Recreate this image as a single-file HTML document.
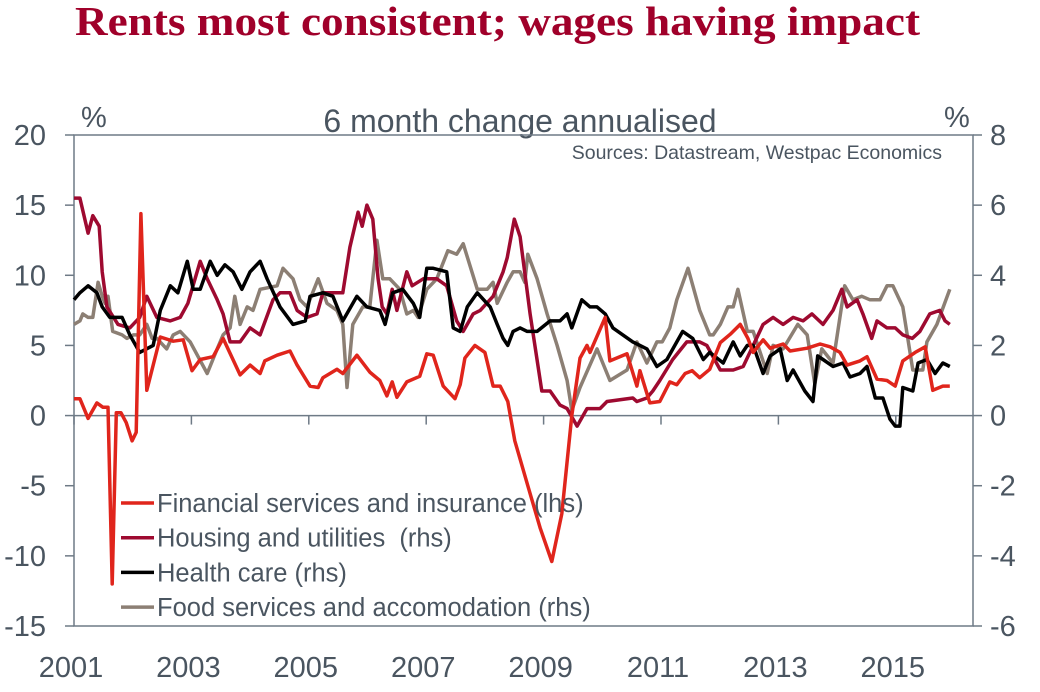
<!DOCTYPE html>
<html><head><meta charset="utf-8"><style>
html,body{margin:0;padding:0;background:#fff;}
svg{display:block;font-family:"Liberation Sans",sans-serif;}
</style></head><body>
<svg id="chart" width="1040" height="692" viewBox="0 0 1040 692" xmlns="http://www.w3.org/2000/svg">
<text x="75" y="35" font-family="Liberation Serif, serif" font-weight="bold" font-size="41" fill="#a0002a" textLength="845" lengthAdjust="spacingAndGlyphs">Rents most consistent; wages having impact</text>
<text x="520" y="132" font-size="32" fill="#4a5560" text-anchor="middle">6 month change annualised</text>
<text x="81" y="127" font-size="29" fill="#4a5560">%</text>
<text x="944" y="127" font-size="29" fill="#4a5560">%</text>
<text x="942" y="159" font-size="19.5" fill="#4a5560" text-anchor="end">Sources: Datastream, Westpac Economics</text>
<g id="axes"></g>
<g id="series"></g>
<g id="legend"></g>
</svg>
<script>
const xTickYears=[2001,2003,2005,2007,2009,2011,2013,2015];
const leftTicks=[20,15,10,5,0,-5,-10,-15];
const rightTicks=[8,6,4,2,0,-2,-4,-6];
const finDates=[2001.00,2001.10,2001.24,2001.39,2001.49,2001.58,2001.65,2001.72,2001.80,2001.89,2001.99,2002.06,2002.14,2002.24,2002.47,2002.69,2002.86,2003.01,2003.15,2003.37,2003.54,2003.83,2004.00,2004.17,2004.25,2004.46,2004.68,2004.80,2005.02,2005.16,2005.24,2005.48,2005.58,2005.82,2006.04,2006.21,2006.33,2006.42,2006.50,2006.67,2006.89,2007.01,2007.12,2007.29,2007.49,2007.58,2007.66,2007.83,2008.00,2008.14,2008.26,2008.39,2008.51,2008.73,2008.94,2009.14,2009.31,2009.48,2009.62,2009.74,2009.79,2010.05,2010.13,2010.42,2010.59,2010.64,2010.81,2010.98,2011.15,2011.27,2011.41,2011.53,2011.66,2011.83,2012.01,2012.18,2012.35,2012.48,2012.57,2012.74,2012.86,2013.08,2013.20,2013.49,2013.71,2013.88,2014.05,2014.17,2014.39,2014.51,2014.68,2014.85,2014.99,2015.12,2015.33,2015.50,2015.63,2015.80,2015.92];
const finValues=[1.2,1.2,-0.2,0.9,0.6,0.6,-12,0.2,0.2,-0.5,-1.8,-1.2,14.4,1.8,5.6,5.3,5.4,3.2,4.0,4.2,5.5,2.9,3.6,3.0,3.9,4.3,4.6,3.6,2.1,2.0,2.7,3.3,3.0,4.3,3.1,2.5,1.4,2.4,1.3,2.4,2.8,4.4,4.3,2.1,1.2,2.2,4.1,5.0,4.5,2.1,2.1,1.0,-1.8,-5,-8,-10.4,-7,0,4.1,5.0,4.5,7.0,3.9,4.4,2.1,3.2,0.9,1.0,2.4,2.2,3.0,3.2,2.7,3.3,5.2,5.8,6.5,5.5,4.5,5.4,4.8,5.1,4.6,4.8,5.1,4.9,4.5,3.6,3.9,4.2,2.6,2.5,2.1,3.9,4.5,4.9,1.8,2.1,2.1];
const houseDates=[2001.00,2001.10,2001.24,2001.32,2001.43,2001.48,2001.56,2001.75,2001.95,2002.12,2002.24,2002.41,2002.64,2002.81,2002.94,2003.15,2003.27,2003.44,2003.54,2003.66,2003.83,2004.00,2004.17,2004.39,2004.51,2004.68,2004.80,2004.97,2005.14,2005.24,2005.58,2005.70,2005.84,2005.91,2005.99,2006.09,2006.18,2006.25,2006.33,2006.42,2006.50,2006.67,2006.76,2006.95,2007.18,2007.35,2007.52,2007.63,2007.80,2007.92,2008.14,2008.31,2008.38,2008.50,2008.60,2008.77,2008.97,2009.11,2009.28,2009.40,2009.57,2009.74,2009.96,2010.08,2010.52,2010.59,2010.76,2010.86,2010.98,2011.20,2011.44,2011.66,2011.78,2012.01,2012.23,2012.40,2012.57,2012.74,2012.91,2013.08,2013.25,2013.42,2013.57,2013.76,2013.93,2014.08,2014.17,2014.34,2014.44,2014.59,2014.68,2014.85,2014.99,2015.12,2015.28,2015.41,2015.58,2015.75,2015.84,2015.92];
const houseValues=[6.2,6.2,5.2,5.7,5.4,4.1,3.1,2.6,2.5,2.8,3.4,2.8,2.7,2.8,3.2,4.4,3.9,3.3,2.9,2.1,2.1,2.5,2.3,3.3,3.5,3.5,3.0,2.8,2.9,3.5,3.5,4.8,5.8,5.4,6.0,5.6,3.9,3.1,2.9,3.6,3.0,4.1,3.7,3.9,3.9,3.7,2.7,2.4,2.9,3.0,3.4,4.1,4.5,5.6,5.1,2.9,0.7,0.7,0.3,0.2,-0.3,0.2,0.2,0.4,0.5,0.4,0.5,0.7,1.0,1.6,2.1,2.1,2.0,1.3,1.3,1.4,2.0,2.6,2.8,2.6,2.8,2.7,2.9,2.6,3.0,3.6,3.1,3.3,2.9,2.2,2.7,2.5,2.5,2.3,2.2,2.4,2.9,3.0,2.7,2.6];
const healthDates=[2001.00,2001.10,2001.24,2001.39,2001.48,2001.61,2001.82,2001.95,2002.12,2002.35,2002.47,2002.64,2002.77,2002.93,2003.03,2003.15,2003.32,2003.44,2003.57,2003.71,2003.86,2004.00,2004.17,2004.29,2004.51,2004.73,2004.94,2005.02,2005.24,2005.41,2005.58,2005.82,2005.99,2006.21,2006.30,2006.43,2006.60,2006.78,2006.89,2007.01,2007.12,2007.35,2007.46,2007.58,2007.70,2007.87,2008.09,2008.21,2008.31,2008.39,2008.48,2008.60,2008.72,2008.89,2009.11,2009.28,2009.40,2009.48,2009.65,2009.79,2009.91,2010.05,2010.18,2010.52,2010.76,2010.93,2011.10,2011.37,2011.54,2011.72,2011.83,2012.06,2012.23,2012.35,2012.47,2012.57,2012.74,2012.86,2013.03,2013.15,2013.25,2013.45,2013.59,2013.67,2013.76,2013.93,2014.10,2014.22,2014.39,2014.51,2014.65,2014.78,2014.90,2014.99,2015.07,2015.12,2015.29,2015.38,2015.53,2015.67,2015.80,2015.92];
const healthValues=[3.3,3.5,3.7,3.5,3.1,2.8,2.8,2.3,1.8,2.0,3.0,3.7,3.5,4.4,3.6,3.6,4.4,4.0,4.3,4.1,3.6,4.1,4.4,3.9,3.1,2.6,2.7,3.4,3.5,3.4,2.7,3.4,3.1,3.0,2.6,3.5,3.6,3.2,2.8,4.2,4.2,4.1,2.5,2.4,3.1,3.5,3.1,2.6,2.2,2.0,2.4,2.5,2.4,2.4,2.7,2.7,2.9,2.5,3.3,3.1,3.1,2.9,2.5,2.1,1.9,1.4,1.6,2.4,2.2,1.6,1.8,1.5,2.1,1.7,2.0,2.0,1.2,1.7,1.9,1.0,1.3,0.7,0.4,1.7,1.6,1.4,1.5,1.1,1.2,1.4,0.5,0.5,-0.1,-0.3,-0.3,0.8,0.7,1.5,1.6,1.2,1.5,1.4];
const foodDates=[2001.00,2001.10,2001.15,2001.24,2001.32,2001.41,2001.48,2001.53,2001.58,2001.66,2001.82,2001.90,2002.01,2002.12,2002.24,2002.33,2002.41,2002.58,2002.69,2002.81,2002.98,2003.27,2003.44,2003.54,2003.66,2003.74,2003.83,2003.95,2004.05,2004.17,2004.46,2004.56,2004.73,2004.85,2004.97,2005.16,2005.31,2005.48,2005.58,2005.65,2005.75,2005.92,2006.04,2006.16,2006.26,2006.38,2006.55,2006.67,2006.78,2006.86,2007.01,2007.18,2007.37,2007.52,2007.63,2007.87,2008.04,2008.14,2008.21,2008.38,2008.48,2008.60,2008.68,2008.73,2008.89,2009.06,2009.23,2009.40,2009.48,2009.62,2009.91,2010.13,2010.42,2010.59,2010.76,2010.93,2011.02,2011.15,2011.27,2011.46,2011.66,2011.83,2011.89,2012.01,2012.14,2012.23,2012.31,2012.47,2012.57,2012.81,2012.91,2013.08,2013.33,2013.49,2013.62,2013.74,2013.93,2014.13,2014.27,2014.42,2014.56,2014.73,2014.85,2014.95,2015.12,2015.29,2015.46,2015.53,2015.70,2015.92];
const foodValues=[2.6,2.7,2.9,2.8,2.8,3.8,3.4,3.2,3.4,2.4,2.3,2.2,2.3,2.3,2.6,2.2,2.2,1.9,2.3,2.4,2.1,1.2,1.9,2.3,2.5,3.4,2.6,3.1,3.0,3.6,3.7,4.2,3.9,3.3,3.1,3.9,3.2,3.0,2.6,0.8,2.6,3.1,3.1,5.0,3.9,3.9,3.6,2.9,3.0,2.8,3.6,3.9,4.7,4.6,4.9,3.6,3.6,3.8,3.2,3.8,4.1,4.1,3.8,4.6,3.9,2.9,2.0,1.0,0.15,0.8,1.9,1.0,1.3,2.1,1.5,2.1,2.1,2.5,3.3,4.2,3.0,2.3,2.3,2.6,3.1,3.1,3.6,2.4,2.4,1.2,2.0,1.9,2.6,2.3,0.9,1.9,1.5,3.7,3.3,3.4,3.3,3.3,3.7,3.7,3.1,1.3,1.3,2.1,2.6,3.6];

const NS='http://www.w3.org/2000/svg';
const L=74,R=973,T=135,B=626,X0=2001,PXY=58.7;
const xS=y=>L+(y-X0)*PXY;
const yL=v=>T+(20-v)*(B-T)/35;
const yR=v=>T+(8-v)*(B-T)/14;
const INK='#4a5560',AX='#6e7a86';
function mk(tag,attrs,parent){const e=document.createElementNS(NS,tag);for(const k in attrs)e.setAttribute(k,attrs[k]);parent.appendChild(e);return e;}
const axes=document.getElementById('axes');
const frame=mk('rect',{x:L,y:T,width:R-L,height:B-T,fill:'none',stroke:AX,'stroke-width':1.5},axes);


const zl=mk('line',{x1:L,x2:R,y1:yL(0),y2:yL(0),stroke:AX,'stroke-width':1.5},axes);


leftTicks.forEach(v=>{
  const y=yL(v);
  const t=mk('line',{x1:L-9,x2:L,y1:y,y2:y,stroke:AX,'stroke-width':1.5},axes);
  
  
  const tx=mk('text',{x:46,y:y+10,'font-size':29,fill:INK,'text-anchor':'end'},axes);
  tx.textContent=v;
  
  
});
rightTicks.forEach(v=>{
  const y=yR(v);
  const t=mk('line',{x1:R,x2:R+9,y1:y,y2:y,stroke:AX,'stroke-width':1.5},axes);
  
  
  const tx=mk('text',{x:990,y:y+10,'font-size':29,fill:INK},axes);
  tx.textContent=v;
  
  
});
xTickYears.forEach(yr=>{
  const x=xS(yr);
  const t=mk('line',{x1:x,x2:x,y1:yL(0),y2:yL(0)+9,stroke:AX,'stroke-width':1.5},axes);
  
  
  const tx=mk('text',{x:x-3,y:677,'font-size':29,fill:INK,'text-anchor':'middle'},axes);
  tx.textContent=yr;
  
  
});
const series=document.getElementById('series');
function draw(dates,vals,sc,col,name){
  const d=dates.map((t,i)=>(i?'L':'M')+xS(t).toFixed(1)+','+sc(vals[i]).toFixed(1)).join('');
  const p=mk('path',{d:d,fill:'none',stroke:col,'stroke-width':3.5,'stroke-linejoin':'round'},series);
  
  
}
draw(foodDates,foodValues,yR,'#8c7f74','food-services-line');
draw(houseDates,houseValues,yR,'#9e0a30','housing-utilities-line');
draw(healthDates,healthValues,yR,'#000000','health-care-line');
draw(finDates,finValues,yL,'#e0251c','financial-services-line');
const lg=document.getElementById('legend');
const items=[['Financial services and insurance (lhs)','#e0251c'],['Housing and utilities  (rhs)','#9e0a30'],['Health care (rhs)','#000000'],['Food services and accomodation (rhs)','#8c7f74']];
items.forEach((it,i)=>{
  const y=503+i*34.7;
  const ln=mk('line',{x1:121,x2:154,y1:y,y2:y,stroke:it[1],'stroke-width':3.5},lg);
  
  
  const tx=mk('text',{x:157,y:y+9,'font-size':25.5,fill:INK,style:'white-space:pre'},lg);
  tx.textContent=it[0];
  
  
});
</script>
</body></html>
